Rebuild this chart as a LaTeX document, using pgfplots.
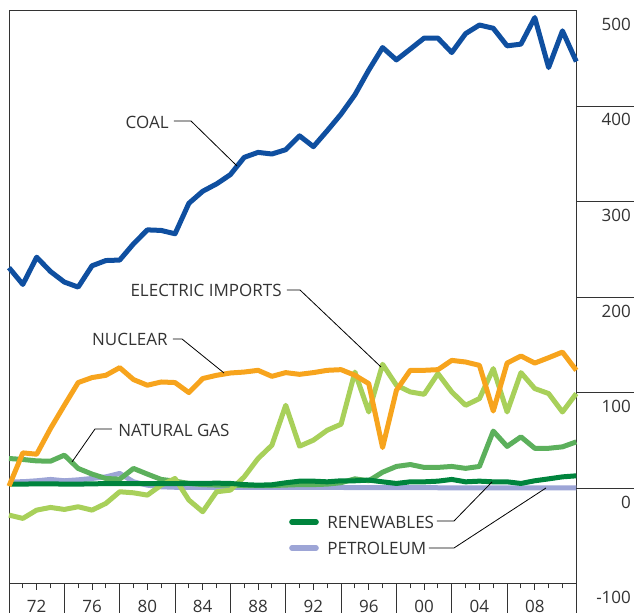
\documentclass[border=0pt]{standalone}
\usepackage{fontspec}
\setmainfont{Open Sans}
\usepackage{pgfplots}
\pgfplotsset{compat=1.18}
\usepackage{pgfplotstable}
\definecolor{coalc}{HTML}{0F4FA0}
\definecolor{nucc}{HTML}{F7A41D}
\definecolor{impc}{HTML}{A8D05A}
\definecolor{gasc}{HTML}{5CB05C}
\definecolor{renc}{HTML}{00843D}
\definecolor{petc}{HTML}{9DA5D6}
\definecolor{axc}{HTML}{333333}
\definecolor{txtc}{HTML}{333333}

\pgfplotstableread{
year coal nuclear imports gas renew petrol
1970 231 2.4 -27.9 31.3 4.5 6.9
1971 213.5 37.2 -31.4 30.3 4.5 7.0
1972 242 35.8 -22.7 28.8 4.8 8.0
1973 227 62.7 -19.9 28.5 4.8 9.4
1974 216 87 -22 34.8 4.5 8.0
1975 210.7 110.8 -19.2 20.9 4.5 9.0
1976 233 116 -22.7 15 4.8 10.4
1977 238.5 118.4 -15.7 10.4 5 12.1
1978 239 126.4 -3.5 9.7 5 15.7
1979 256 113.9 -4.6 20.9 5 6.9
1980 270.6 108 -7 15 5 3.4
1981 270 111.4 3.4 9.4 5 1.7
1982 266.5 110.8 10.4 7.6 5 1.2
1983 298.4 100.3 -12.2 5.2 5.2 1.0
1984 311 115 -24.4 4 5.2 1.0
1985 318.7 118.4 -3.5 3.5 5.5 1.0
1986 328.4 120.8 -1.8 3.5 5.2 1.0
1987 346.5 121.8 12.1 3 4 1.0
1988 351.7 123.6 31.3 3 3.4 1.0
1989 350 117.3 45.2 3 3.8 1.0
1990 354.5 121.2 87 3.5 5.9 1.0
1991 369 119.4 44.2 4 7.6 1.0
1992 357.7 121.2 50.5 4 7.6 1.0
1993 374.4 123.6 60.9 4.5 6.9 1.0
1994 391.8 124.3 67.2 6 8 1.0
1995 412 118.4 121.8 10 8 0.8
1996 437.8 109.7 80 8 8.7 0.8
1997 461.4 42.8 129.9 17 6.9 0.8
1998 448.5 102.7 108 23 5.2 0.8
1999 459.8 123.6 101 25 6.9 0.8
2000 471.3 123.6 98.5 22 6.9 0.8
2001 471.3 124.3 120.2 22 7.6 0.7
2002 456.2 134 101 23 9.4 0.7
2003 476 132.3 87 21 6.9 0.7
2004 485 128.8 94 23 7.6 0.7
2005 481.6 81 125.4 60 6.9 0.6
2006 463.2 131.2 80 44 6.9 0.6
2007 465 138.6 121.2 54 5.2 0.6
2008 492.8 131.2 104.5 42 8 0.6
2009 440.5 136.8 99.3 42 10 0.6
2010 478.9 142.7 80 43.5 12.1 0.6
2011 446.8 123.6 99.3 48.7 13.2 0.6
}\datatable

\begin{document}
\begin{tikzpicture}[font=\fontsize{8.5pt}{10pt}\selectfont]
\begin{axis}[
  scale only axis,
  width=283.65pt, height=286.65pt,
  xmin=1970, xmax=2011, ymin=-100, ymax=500,
  axis line style={draw=axc, line width=0.5pt},
  tick style={draw=axc, line width=0.5pt},
  /pgf/number format/assume math mode=true,
  xtick={1972,1976,...,2008},
  xticklabels={72,76,80,84,88,92,96,00,04,08},
  minor xtick={1970,1971,...,2011},
  tick align=outside,
  xtick pos=bottom,
  major tick length=3pt,
  minor tick length=2.2pt,
  extra x ticks={1970,1974,1978,1982,1986,1990,1994,1998,2002,2006,2011},
  extra x tick labels={},
  extra x tick style={major tick length=15pt},
  ytick={-100,0,...,500},
  yticklabels={-100,0,100,200,300,400,500},
  ytick pos=right,
  ytick style={draw=none},
  xticklabel style={anchor=center, inner sep=0pt, yshift=-8pt, text=txtc},
  yticklabel style={anchor=north east, inner sep=0pt, xshift=24.5pt, yshift=-3.5pt, text=txtc},
  clip=false,
]
\addplot[petc, line width=2.5pt, line join=round] table[x=year, y=petrol] {\datatable};
\addplot[gasc, line width=2.5pt, line join=round] table[x=year, y=gas] {\datatable};
\addplot[impc, line width=2.5pt, line join=round] table[x=year, y=imports] {\datatable};
\addplot[renc, line width=2.5pt, line join=round] table[x=year, y=renew] {\datatable};
\addplot[nucc, line width=2.5pt, line join=round] table[x=year, y=nuclear] {\datatable};
\addplot[coalc, line width=2.5pt, line join=round] table[x=year, y=coal] {\datatable};
\draw[axc, line width=0.5pt] (axis cs:2011,0) -- ([xshift=29pt]axis cs:2011,0);
\draw[axc, line width=0.5pt] (axis cs:2011,100) -- ([xshift=29pt]axis cs:2011,100);
\draw[axc, line width=0.5pt] (axis cs:2011,200) -- ([xshift=29pt]axis cs:2011,200);
\draw[axc, line width=0.5pt] (axis cs:2011,300) -- ([xshift=29pt]axis cs:2011,300);
\draw[axc, line width=0.5pt] (axis cs:2011,400) -- ([xshift=29pt]axis cs:2011,400);
\end{axis}
\begin{scope}[shift={([shift={(-4.5pt,5.35pt)}]current axis.north west)}, x=0.5pt, y=-0.5pt]
  \begin{scope}[txtc]
  \node[anchor=east, inner sep=0pt] at (169,122) {COAL};
  \draw[black, line width=0.4pt] (174,121) -- (191,121) -- (237,166);
  \node[anchor=east, inner sep=0pt] at (282,290) {ELECTRIC IMPORTS};
  \draw[black, line width=0.4pt] (287,290) -- (300,290) -- (381,367);
  \node[anchor=east, inner sep=0pt] at (168,339) {NUCLEAR};
  \draw[black, line width=0.4pt] (173,339) -- (182,339) -- (224,373);
  \node[anchor=west, inner sep=0pt] at (118,430) {NATURAL GAS};
  \draw[black, line width=0.4pt] (112,429) -- (95,429) -- (72,462);
  \node[anchor=west, inner sep=0pt] at (327,522) {RENEWABLES};
  \draw[renc, line width=2.8pt, line cap=round] (292,522) -- (316,522);
  \draw[black, line width=0.4pt] (437,521) -- (454,521) -- (492,482);
  \node[anchor=west, inner sep=0pt] at (327,548) {PETROLEUM};
  \draw[petc, line width=2.8pt, line cap=round] (292,548) -- (316,548);
  \draw[black, line width=0.4pt] (429,548) -- (454,548) -- (546,488);
  \end{scope}
  \pgfresetboundingbox
  \path[use as bounding box] (0,0) rectangle (634,613);
\end{scope}
\end{tikzpicture}
\end{document}
